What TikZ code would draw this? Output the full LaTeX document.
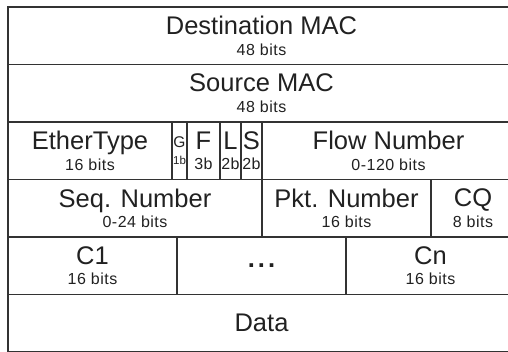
\documentclass[tikz,border=0pt]{standalone}
\usepackage{fontspec}
\setmainfont{Liberation Sans}
\newfontfamily\bitsfamily[LetterSpace=3]{Liberation Sans}
\usetikzlibrary{positioning}

\definecolor{framegray}{gray}{0.2}
\definecolor{labelgray}{gray}{0.13}
\newcommand{\fieldfont}{\fontsize{25.5}{20.5}\selectfont}
\newcommand{\bitsfont}{\bitsfamily\fontsize{16}{18}\selectfont}
\newcommand{\flagfont}{\fontsize{15.5}{17.5}\selectfont}
\newcommand{\flagbitsfont}{\fontsize{11.5}{13}\selectfont}

\tikzset{
  field/.style={rectangle, draw=framegray, line width=1.4pt, inner sep=0pt,
    outer sep=0pt, minimum height=57.5pt, align=center, text=labelgray,
    font=\fieldfont},
}

\begin{document}
\begin{tikzpicture}[x=1pt,y=-1pt]
  \useasboundingbox (0,0) rectangle (508,352);

  % Define nodes

  % MAC addresses
  \node[field, minimum width=507pt, anchor=north west] (dst_mac) at (8,7) {Destination MAC\\{\bitsfont 48 bits}}; %
  \node[field, minimum width=507pt, below=0pt of dst_mac] (src_mac) {Source MAC\\{\bitsfont 48 bits}}; %

  % EtherType, flags and flow
  \node[field, minimum width=164pt, below right=0pt of src_mac.south west] (ether) {EtherType\\{\bitsfont 16 bits}}; %
  \node[field, minimum width=15pt, right=0pt of ether, font=\flagfont] (g) {G\\{\flagbitsfont 1b}}; %
  \node[field, minimum width=33pt, right=0pt of g] (f) {F\\{\bitsfont 3b}}; %
  \node[field, minimum width=21pt, right=0pt of f] (l) {L\\{\bitsfont 2b}}; %
  \node[field, minimum width=21pt, right=0pt of l] (s) {S\\{\bitsfont 2b}}; %
  \node[field, minimum width=253pt, right=0pt of s] (flow) {Flow Number\\{\bitsfont 0-120 bits}}; %

  % Sequence, packet and CQ
  \node[field, minimum width=254pt, below right=0pt of ether.south west] (seq) {Seq. Number\\{\bitsfont 0-24 bits}}; %
  \node[field, minimum width=169pt, right=0pt of seq] (pkt) {Pkt. Number\\{\bitsfont 16 bits}}; %
  \node[field, minimum width=84pt, right=0pt of pkt] (cq) {CQ\\{\bitsfont 8 bits}}; %

  % C fields
  \node[field, minimum width=169pt, below right=0pt of seq.south west] (c1) {C1\\{\bitsfont 16 bits}}; %
  \node[field, minimum width=169pt, right=0pt of c1] (cdots) {\textbf{.\hspace{3pt}.\hspace{3pt}.}}; %
  \node[field, minimum width=169pt, right=0pt of cdots] (cn) {Cn\\{\bitsfont 16 bits}}; %

  % Payload
  \node[field, minimum width=507pt, below right=0pt of c1.south west] (data) {Data}; %

\end{tikzpicture}
\end{document}
